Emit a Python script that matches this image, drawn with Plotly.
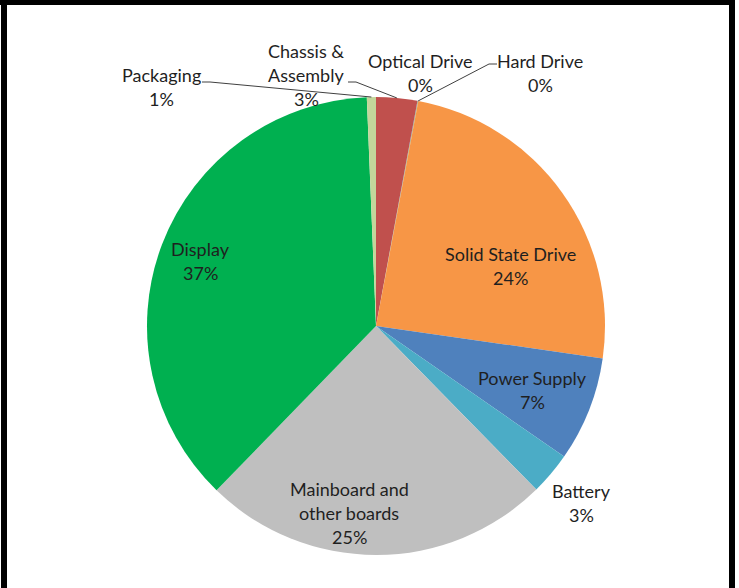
import math
import plotly.graph_objects as go

# ---------------- data ----------------
categories = ["Chassis & Assembly", "Optical Drive", "Hard Drive", "Solid State Drive",
              "Power Supply", "Battery", "Mainboard and other boards", "Display", "Packaging"]
values = [2.9, 0.03, 0.03, 24.3, 7.4, 3.0, 24.6, 37.1, 0.64]
colors = ["#C0504D", "#8064A2", "#9BBB59", "#F79646",
          "#4F81BD", "#4BACC6", "#BFBFBF", "#00B050", "#C3D69B"]

# ---------------- layout constants (pixels) ----------------
W, H = 739, 588
CX, CY, R = 376, 326, 229          # pie centre / radius
FONT = "Lato"
FS = 18
LINE_GAP = 24
TEXT_DY = -1
TEXT_COLOR = "#1f1f1f"

label_lines = {
    "Chassis & Assembly": ["Chassis &", "Assembly"],
    "Mainboard and other boards": ["Mainboard and", "other boards"],
}
# centre x, first-line y of each label
label_pos = {
    "Chassis & Assembly": (306, 52),
    "Optical Drive": (420, 62),
    "Hard Drive": (540, 62),
    "Solid State Drive": (511, 255),
    "Power Supply": (532, 379),
    "Battery": (581, 492),
    "Mainboard and other boards": (349, 490),
    "Display": (200, 250),
    "Packaging": (161, 76),
}
# leader line start (x, y, elbow direction)
leaders = {
    "Packaging": (202, 82, 1),
    "Chassis & Assembly": (348, 82, 1),
    "Hard Drive": (497, 64, -1),
}


def px(x):
    return x / W


def py(y):
    return 1 - y / H


total = sum(values)
fig = go.Figure(go.Pie(
    labels=categories, values=values, sort=False, direction="clockwise", rotation=0,
    marker=dict(colors=colors, line=dict(width=0)),
    textinfo="none", hoverinfo="skip", showlegend=False,
    domain=dict(x=[px(CX - R), px(CX + R)], y=[py(CY + R), py(CY - R)]),
))

annotations = []
shapes = []
cum = 0.0
for cat, v in zip(categories, values):
    mid = (cum + v / 2) / total * 2 * math.pi
    cum += v
    lines = label_lines.get(cat, [cat]) + [f"{round(v / total * 100):.0f}%"]
    x0, y0 = label_pos[cat]
    for i, t in enumerate(lines):
        annotations.append(dict(
            x=px(x0), y=py(y0 + i * LINE_GAP + TEXT_DY), xref="paper", yref="paper",
            text=t, showarrow=False, xanchor="center", yanchor="middle",
            font=dict(family=FONT, size=FS, color=TEXT_COLOR)))
    if cat in leaders:
        sx, sy, d = leaders[cat]
        ex = CX + R * math.sin(mid)
        ey = CY - R * math.cos(mid)
        path = f"M {px(sx)} {py(sy)} L {px(sx + 8 * d)} {py(sy)} L {px(ex)} {py(ey)}"
        shapes.append(dict(type="path", xref="paper", yref="paper", path=path,
                           line=dict(color="#404040", width=1)))

# black frame (left, top, right)
for x0, y0, x1, y1 in [(1, 0, 7, H), (0, 0, 735, 5), (729, 0, 735, H)]:
    shapes.append(dict(type="rect", xref="paper", yref="paper",
                       x0=px(x0), x1=px(x1), y0=py(y1), y1=py(y0),
                       fillcolor="black", line=dict(width=0), layer="above"))

fig.update_layout(
    width=W, height=H, margin=dict(l=0, r=0, t=0, b=0),
    paper_bgcolor="white", plot_bgcolor="white",
    annotations=annotations, shapes=shapes,
)

fig.write_html("out.html", config={"displayModeBar": False},
               post_script="document.body.style.margin='0';document.body.style.overflow='hidden';")
